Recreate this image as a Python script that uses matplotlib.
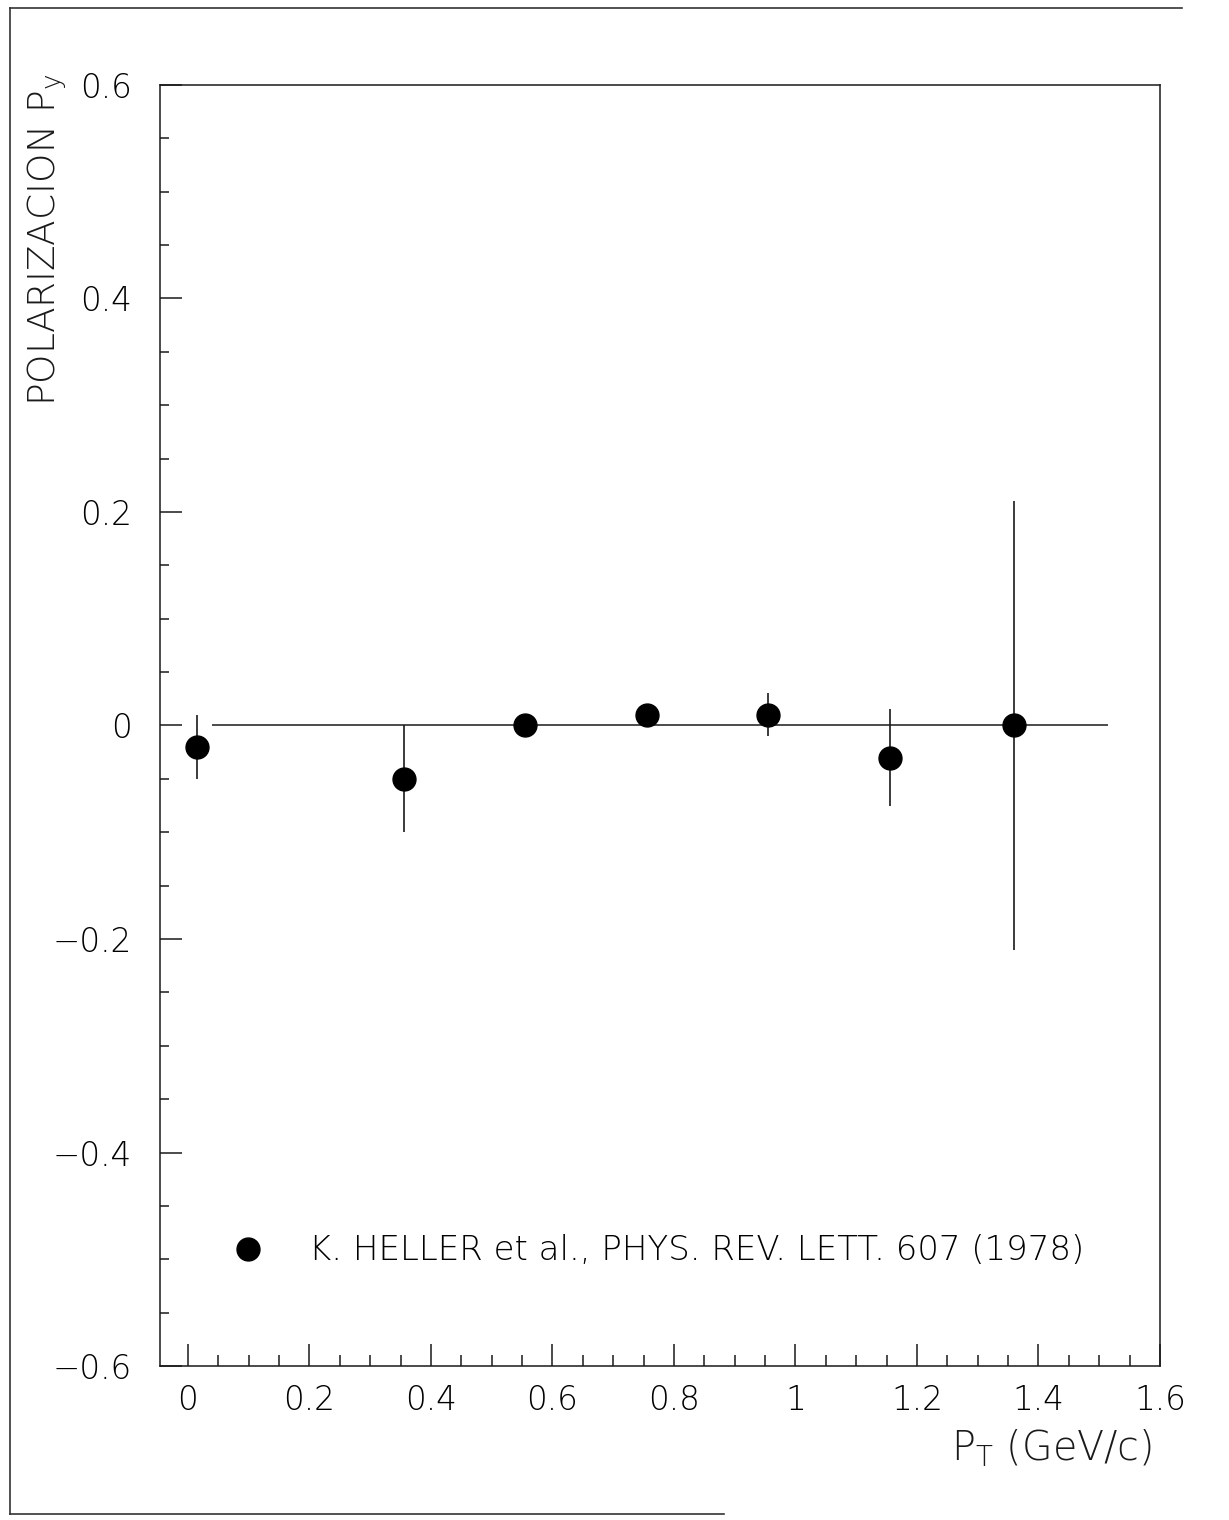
import matplotlib
matplotlib.use("Agg")
import matplotlib.pyplot as plt
from matplotlib.lines import Line2D
from matplotlib.ticker import MultipleLocator

# Lambda polarization vs transverse momentum
pt = [0.015, 0.355, 0.555, 0.755, 0.955, 1.155, 1.36]
pol = [-0.02, -0.05, 0.0, 0.01, 0.01, -0.03, 0.0]
pol_err = [0.03, 0.05, 0.005, 0.005, 0.02, 0.045, 0.21]

x_ticks = [0, 0.2, 0.4, 0.6, 0.8, 1.0, 1.2, 1.4, 1.6]
x_tick_labels = ["0", "0.2", "0.4", "0.6", "0.8", "1", "1.2", "1.4", "1.6"]
y_ticks = [-0.6, -0.4, -0.2, 0.0, 0.2, 0.4, 0.6]
y_tick_labels = ["\u22120.6", "\u22120.4", "\u22120.2", "0", "0.2", "0.4", "0.6"]

ref_label = "K. HELLER et al., PHYS. REV. LETT. 607 (1978)"

plt.rcParams["font.family"] = ["DejaVu Sans"]
plt.rcParams["font.weight"] = "light"
plt.rcParams["mathtext.fontset"] = "custom"
plt.rcParams["mathtext.rm"] = "DejaVu Sans:light"
plt.rcParams["mathtext.it"] = "DejaVu Sans:light"

W, H = 1229, 1520
fig = plt.figure(figsize=(W / 100, H / 100), dpi=100)
fig.patch.set_facecolor("white")

ax = fig.add_axes([160 / W, 1 - 1366 / H, 1000 / W, (1366 - 85) / H])
ax.set_xlim(-0.046, 1.6)
ax.set_ylim(-0.6, 0.6)

ink = "#1a1a1a"
for side in ["top", "right", "bottom", "left"]:
    ax.spines[side].set_linewidth(1.1)
    ax.spines[side].set_color(ink)

# zero reference line
ax.hlines(0.0, 0.04, 1.515, color=ink, lw=1.1, zorder=1)

# error bars and points
ax.errorbar(pt, pol, yerr=pol_err, fmt="none", ecolor=ink, elinewidth=1.2,
            capsize=0, zorder=2)
pts, = ax.plot(pt, pol, "o", color="black", markersize=16.5, zorder=3,
               label=ref_label)

ax.set_xticks(x_ticks)
ax.set_xticklabels(x_tick_labels)
ax.set_yticks(y_ticks)
ax.set_yticklabels(y_tick_labels)
ax.xaxis.set_minor_locator(MultipleLocator(0.05))
ax.yaxis.set_minor_locator(MultipleLocator(0.05))

ax.tick_params(axis="both", which="both", direction="in", top=False,
               right=False, color=ink, width=1.1)
ax.tick_params(axis="x", which="major", length=16, pad=13, labelsize=23.5)
ax.tick_params(axis="x", which="minor", length=8)
ax.tick_params(axis="y", which="major", length=16, pad=20, labelsize=23.5)
ax.tick_params(axis="y", which="minor", length=6.5)
for lbl in ax.get_xticklabels() + ax.get_yticklabels():
    lbl.set_fontweight("light")

leg = ax.legend(handles=[pts], loc="center left",
                bbox_to_anchor=(0.071, 0.0898), frameon=False,
                borderpad=0, borderaxespad=0, handlelength=1.0,
                handletextpad=1.3, prop={"size": 24.5, "weight": "light"})

# axis titles
fig.text(26 / W, 1 - 74 / H, r"POLARIZACION P$_{\mathrm{y}}$", rotation=90,
         ha="left", va="top", fontsize=27, fontweight="light", color=ink)
fig.text(1152 / W, 1 - 1460 / H, r"P$_{\mathrm{T}}$ (GeV/c)", ha="right",
         va="baseline", fontsize=28.5, fontweight="light", color=ink)

# page border
border = dict(transform=fig.transFigure, color="#333333", lw=1.2)
fig.add_artist(Line2D([10 / W, 10 / W], [1 - 8 / H, 1 - 1514 / H], **border))
fig.add_artist(Line2D([10 / W, 1182 / W], [1 - 8 / H, 1 - 8 / H], **border))
fig.add_artist(Line2D([10 / W, 724 / W], [1 - 1514 / H, 1 - 1514 / H], **border))

fig.savefig("out.png", dpi=100, facecolor="white")
